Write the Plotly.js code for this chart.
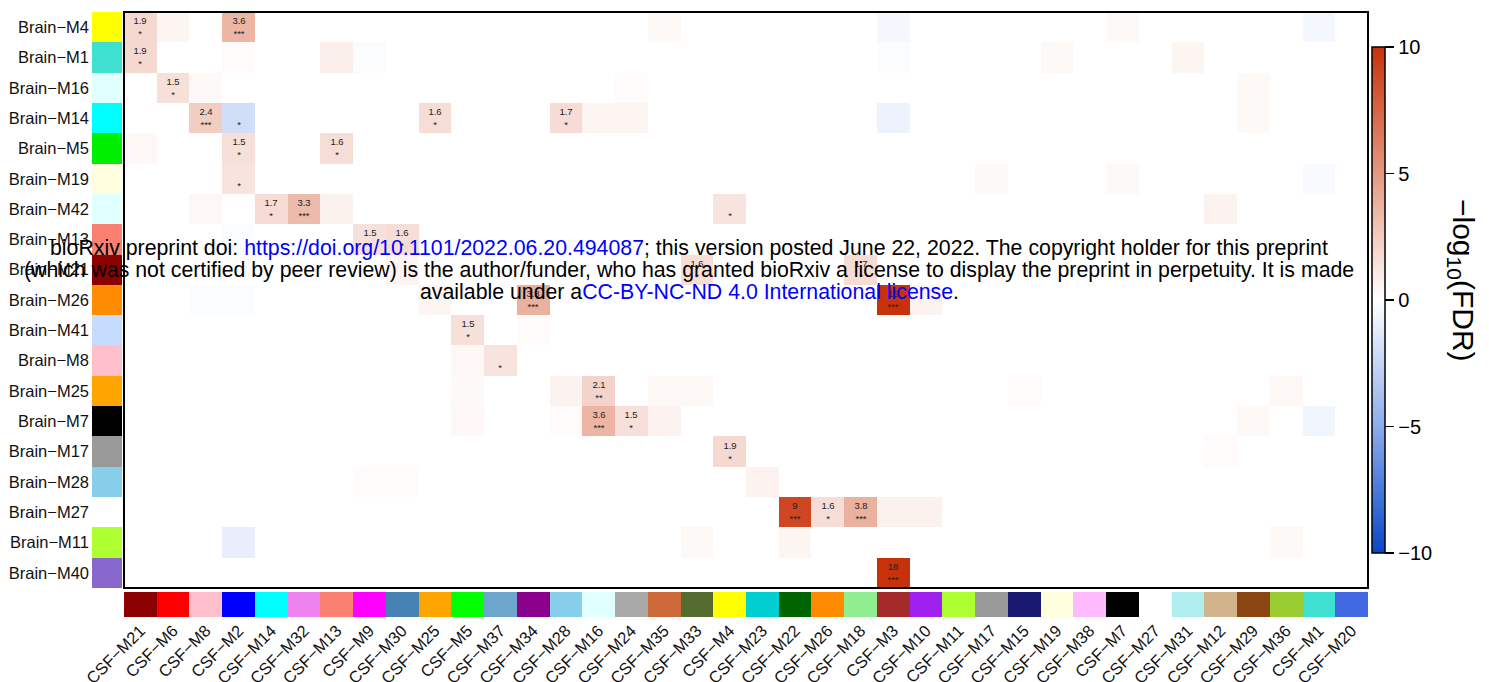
<!DOCTYPE html>
<html>
<head>
<meta charset="utf-8">
<script src="https://cdn.plot.ly/plotly-3.0.1.min.js"></script>
<style>html,body{margin:0;padding:0;background:#fff;}#chart{width:1489px;height:682px;}</style>
</head>
<body>
<div id="chart"></div>
<script>
// ---------- DATA ----------
const brainModules = ['Brain−M4','Brain−M1','Brain−M16','Brain−M14','Brain−M5','Brain−M19','Brain−M42','Brain−M13','Brain−M21','Brain−M26','Brain−M41','Brain−M8','Brain−M25','Brain−M7','Brain−M17','Brain−M28','Brain−M27','Brain−M11','Brain−M40'];
const brainColors = ['#FFFF00','#40E0D0','#E0FFFF','#00FFFF','#00EE00','#FFFFE0','#E0FFFF','#FA8072','#8B0000','#FF8C00','#C6DCFF','#FFC0CB','#FFA500','#000000','#999999','#87CEEB','#FFFFFF','#ADFF2F','#8968CD'];
const csfModules = ['CSF−M21','CSF−M6','CSF−M8','CSF−M2','CSF−M14','CSF−M32','CSF−M13','CSF−M9','CSF−M30','CSF−M25','CSF−M5','CSF−M37','CSF−M34','CSF−M28','CSF−M16','CSF−M24','CSF−M35','CSF−M33','CSF−M4','CSF−M23','CSF−M22','CSF−M26','CSF−M18','CSF−M3','CSF−M10','CSF−M11','CSF−M17','CSF−M15','CSF−M19','CSF−M38','CSF−M7','CSF−M27','CSF−M31','CSF−M12','CSF−M29','CSF−M36','CSF−M1','CSF−M20'];
const csfColors = ['#8B0000','#FF0000','#FFC0CB','#0000FF','#00FFFF','#EE82EE','#FA8072','#FF00FF','#4682B4','#FFA500','#00FF00','#6CA6CD','#8B008B','#87CEEB','#E0FFFF','#A9A9A9','#CD6839','#556B2F','#FFFF00','#00CED1','#006400','#FF8C00','#90EE90','#A52A2A','#A020F0','#ADFF2F','#999999','#191970','#FFFFE0','#FFBBFF','#000000','#FFFFFF','#AFEEEE','#D2B48C','#8B4513','#9ACD32','#40E0D0','#4169E1'];

// signed -log10(FDR), one row per brain module (columns follow csfModules)
const rowM4  = [1.9,0.5,0,3.6,0,0,0,0,0,0,0,0,0,0,0,0,0.3,0,0,0,0,0,0,-0.5,0,0,0,0,0,0,0.3,0,0,0,0,0,-0.5,0];
const rowM1  = [1.9,0,0,0.2,0,0,0.8,-0.2,0,0,0,0,0,0,0,0,0,0,0,0,0,0,0,-0.2,0,0,0,0,0.3,0,0,0,0.5,0,0,0,0,0];
const rowM16 = [0,1.5,0.3,0,0,0,0,0,0,0,0,0,0,0,0,0.2,0,0,0,0,0,0,0,0,0,0,0,0,0,0,0,0,0,0,0.3,0,0,0];
const rowM14 = [0,0,2.4,-2.0,0,0,0,0,0,1.6,0,0,0,1.7,0.5,0.5,0,0,0,0,0,0,0,-0.8,0,0,0,0,0,0,0,0,0,0,0.3,0,0,0];
const rowM5  = [0.4,0,0,1.5,0,0,1.6,0,0,0,0,0,0,0,0,0,0,0,0,0,0,0,0,0,0,0,0,0,0,0,0,0,0,0,0,0,0,0];
const rowM19 = [0,0,0,1.3,0,0,0,0,0,0,0,0,0,0,0,0,0,0,0,0,0,0,0,0,0,0,0.3,0,0,0,0.3,0,0,0,0,0,-0.3,0];
const rowM42 = [0,0,0.4,0,1.7,3.3,0.7,0,0,0,0,0,0,0,0,0,0,0,1.3,0,0,0,0,0,0,0,0,0,0,0,0,0,0,0.6,0,0,0,0];
const rowM13 = [0,0,0,-0.2,0,0,0,1.5,1.6,0,0,0,0,0,0,0,0,0,0,0,0,0,0,0,0,0,0,0,0,0,0,0,0,0,0,0,0,0];
const rowM21 = [0,0,0,0,0,0,0,0,0.5,0,0,0,0,0,0,0,0,1.6,0,0,0,0,1.7,0,0,0,0,0,0,0,0,0,0,0,0,0,0,0];
const rowM26 = [0,0,-0.2,-0.2,0,0,0,0,0,0.5,0,0,3.8,0,0,0,0,0,0,0,0,0,0,15,0.6,0,0,0,0,0,0,0,0,0,0,0,0,0];
const rowM41 = [0,0,0,0,0,0,0,0,0,0,1.5,0,0.2,0,0,0,0,0,0,0,0,0,0,0,0,0,0,0,0,0,0,0,0,0,0,0,0,0];
const rowM8  = [0,0,0,0,0,0,0,0,0,0,0.4,1.3,0,0,0,0,0,0,0,0,0,0,0,0,0,0,0,0,0,0,0,0,0,0,0,0,0,0];
const rowM25 = [0,0,0,0,0,0,0,0,0,0,0.3,0,0,0.6,2.1,0,0.4,0.4,0,0,0,0,0,0,0,0,0,0.2,0,0,0,0,0,0,0,0.4,0,0];
const rowM7  = [0,0,0,0,0,0,0,0,0,0,0.4,0,0,0.2,3.6,1.5,0.6,0,0,0,0,0,0,0,0,0,0,0,0,0,0,0,0,0,0.3,0,-0.6,0];
const rowM17 = [0,0,0,0,0,0,0,0,0,0,0,0,0,0,0,0,0,0,1.9,0,0,0,0,0,0,0,0,0,0,0,0,0,0,0.2,0,0,0,0];
const rowM28 = [0,0,0,0,0,0,0,0.2,0.2,0,0,0,0,0,0,0,0,0,0,0.6,0,0,0,0,0,0,0,0,0,0,0,0,0,0,0,0,0,0];
const rowM27 = [0,0,0,0,0,0,0,0,0,0,0,0,0,0,0,0,0,0,0,0,9,1.6,3.8,0.7,0.7,0,0,0,0,0,0,0,0,0,0,0,0,0];
const rowM11 = [0,0,0,-1.0,0,0,0,0,0,0,0,0,0,0,0,0,0,0.3,0,0,0.5,0,0,0,0,0,0,0,0,0,0,0,0,0,0,0.3,0,0];
const rowM40 = [0,0,0,0,0,0,0,0,0,0,0,0,0,0,0,0,0,0,0,0,0,0,0,18,0,0,0,0,0,0,0,0,0,0,0,0,0,0];
const fdrRows = [rowM4,rowM1,rowM16,rowM14,rowM5,rowM19,rowM42,rowM13,rowM21,rowM26,rowM41,rowM8,rowM25,rowM7,rowM17,rowM28,rowM27,rowM11,rowM40];

// printed cell labels: [brain module, csf module, number, stars]
const cellLabels = [
  ['Brain−M4','CSF−M21','1.9','*'], ['Brain−M4','CSF−M2','3.6','***'],
  ['Brain−M1','CSF−M21','1.9','*'],
  ['Brain−M16','CSF−M6','1.5','*'],
  ['Brain−M14','CSF−M8','2.4','***'], ['Brain−M14','CSF−M2','','*'], ['Brain−M14','CSF−M25','1.6','*'], ['Brain−M14','CSF−M28','1.7','*'],
  ['Brain−M5','CSF−M2','1.5','*'], ['Brain−M5','CSF−M13','1.6','*'],
  ['Brain−M19','CSF−M2','','*'],
  ['Brain−M42','CSF−M14','1.7','*'], ['Brain−M42','CSF−M32','3.3','***'], ['Brain−M42','CSF−M4','','*'],
  ['Brain−M13','CSF−M9','1.5','*'], ['Brain−M13','CSF−M30','1.6','*'],
  ['Brain−M21','CSF−M33','1.6','*'], ['Brain−M21','CSF−M18','1.7','*'],
  ['Brain−M26','CSF−M34','3.8','***'], ['Brain−M26','CSF−M3','15','***'],
  ['Brain−M41','CSF−M5','1.5','*'],
  ['Brain−M8','CSF−M37','','*'],
  ['Brain−M25','CSF−M16','2.1','**'],
  ['Brain−M7','CSF−M16','3.6','***'], ['Brain−M7','CSF−M24','1.5','*'],
  ['Brain−M17','CSF−M4','1.9','*'],
  ['Brain−M27','CSF−M22','9','***'], ['Brain−M27','CSF−M26','1.6','*'], ['Brain−M27','CSF−M18','3.8','***'],
  ['Brain−M40','CSF−M3','18','***']
];
const colorbarTicks = [-10,-5,0,5,10];
const colorbarTickText = ['−10','−5','0','5','10'];

// ---------- BUILD ----------
const W = 1489, H = 682;
const px = v => v / W, py = v => 1 - v / H;
const FONT = 'Liberation Sans, Arial, Helvetica, sans-serif';

const textGrid = brainModules.map(() => csfModules.map(() => ''));
cellLabels.forEach(([b, c, num, st]) => {
  const r = brainModules.indexOf(b), k = csfModules.indexOf(c);
  textGrid[r][k] = num ? (num + '<br>' + st) : ('<br>' + st);
});

const scaleFrom = cols => cols.map((c, i) => [i / (cols.length - 1), c]);

const main = {
  type: 'heatmap', x: csfModules, y: brainModules, z: fdrRows,
  zmin: -10, zmax: 10,
  colorscale: [[0,'rgb(5,72,200)'],[0.25,'rgb(140,172,235)'],[0.5,'rgb(255,255,255)'],[0.75,'rgb(228,152,128)'],[1,'rgb(200,50,10)']],
  text: textGrid, texttemplate: '%{text}',
  textfont: {family: FONT, size: 9.5, color: '#222'},
  xaxis: 'x', yaxis: 'y',
  colorbar: {
    thickness: 13, thicknessmode: 'pixels', len: 506, lenmode: 'pixels',
    x: px(1372), xanchor: 'left', y: py(300), yanchor: 'middle',
    xpad: 0, ypad: 0, outlinewidth: 1.5, outlinecolor: '#000',
    ticks: 'outside', ticklen: 9, tickwidth: 1.5, tickcolor: '#000',
    tickvals: colorbarTicks, ticktext: colorbarTickText,
    tickfont: {family: FONT, size: 20, color: '#000'}
  },
  hoverinfo: 'x+y+z'
};

const leftStrip = {
  type: 'heatmap', x: [0], y: brainModules, z: brainModules.map((_, i) => [i]),
  zmin: 0, zmax: brainModules.length - 1, colorscale: scaleFrom(brainColors),
  showscale: false, xaxis: 'x2', yaxis: 'y', hoverinfo: 'y'
};
const bottomStrip = {
  type: 'heatmap', x: csfModules, y: [0], z: [csfModules.map((_, i) => i)],
  zmin: 0, zmax: csfModules.length - 1, colorscale: scaleFrom(csfColors),
  showscale: false, xaxis: 'x3', yaxis: 'y3', hoverinfo: 'x'
};

const blue = 'color:#0000FF';
const wm = [
  'bioRxiv preprint doi: <span style="' + blue + '">https://doi.org/10.1101/2022.06.20.494087</span>; this version posted June 22, 2022. The copyright holder for this preprint',
  '(which was not certified by peer review) is the author/funder, who has granted bioRxiv a license to display the preprint in perpetuity. It is made',
  'available under a<span style="' + blue + '">CC-BY-NC-ND 4.0 International license</span>.'
];
const wmY = [248, 270, 292];

const noAxis = {showgrid: false, zeroline: false, showline: false, ticks: ''};

const layout = {
  width: W, height: H,
  margin: {l: 0, r: 0, t: 0, b: 0, pad: 0},
  paper_bgcolor: '#fff', plot_bgcolor: '#fff',
  font: {family: FONT, color: '#000'},
  showlegend: false,
  xaxis: Object.assign({}, noAxis, {domain: [px(124), px(1368)], anchor: 'y', type: 'category',
    categoryorder: 'array', categoryarray: csfModules, range: [-0.5, csfModules.length - 0.5], showticklabels: false}),
  yaxis: Object.assign({}, noAxis, {domain: [py(588), py(12)], anchor: 'x2', type: 'category',
    categoryorder: 'array', categoryarray: brainModules, range: [brainModules.length - 0.5, -0.5],
    showticklabels: true, tickfont: {family: FONT, size: 16.5, color: '#111'}, ticklabelstandoff: 2}),
  xaxis2: Object.assign({}, noAxis, {domain: [px(92), px(122)], anchor: 'y', range: [-0.5, 0.5], showticklabels: false}),
  xaxis3: Object.assign({}, noAxis, {domain: [px(124), px(1368)], anchor: 'y3', type: 'category',
    categoryorder: 'array', categoryarray: csfModules, range: [-0.5, csfModules.length - 0.5],
    showticklabels: true, tickangle: -45, tickfont: {family: FONT, size: 16.5, color: '#111'}}),
  yaxis3: Object.assign({}, noAxis, {domain: [py(617), py(592)], anchor: 'x3', range: [-0.5, 0.5], showticklabels: false}),
  shapes: [
    {type: 'rect', xref: 'x domain', yref: 'y domain', x0: 0, x1: 1, y0: 0, y1: 1,
     line: {color: '#000', width: 2}, fillcolor: 'rgba(0,0,0,0)', layer: 'above'}
  ],
  annotations: wm.map((t, i) => ({
    text: t, xref: 'paper', yref: 'paper', x: px(689), y: py(wmY[i]),
    xanchor: 'center', yanchor: 'middle', showarrow: false,
    font: {family: FONT, size: 21.3, color: '#000'}
  })).concat([{
    text: '−log<sub>10</sub>(FDR)', xref: 'paper', yref: 'paper', x: px(1462), y: py(280),
    xanchor: 'center', yanchor: 'middle', textangle: 90, showarrow: false,
    font: {family: FONT, size: 30, color: '#000'}
  }])
};

Plotly.newPlot('chart', [main, leftStrip, bottomStrip], layout, {displayModeBar: false, staticPlot: true});
</script>
</body>
</html>
